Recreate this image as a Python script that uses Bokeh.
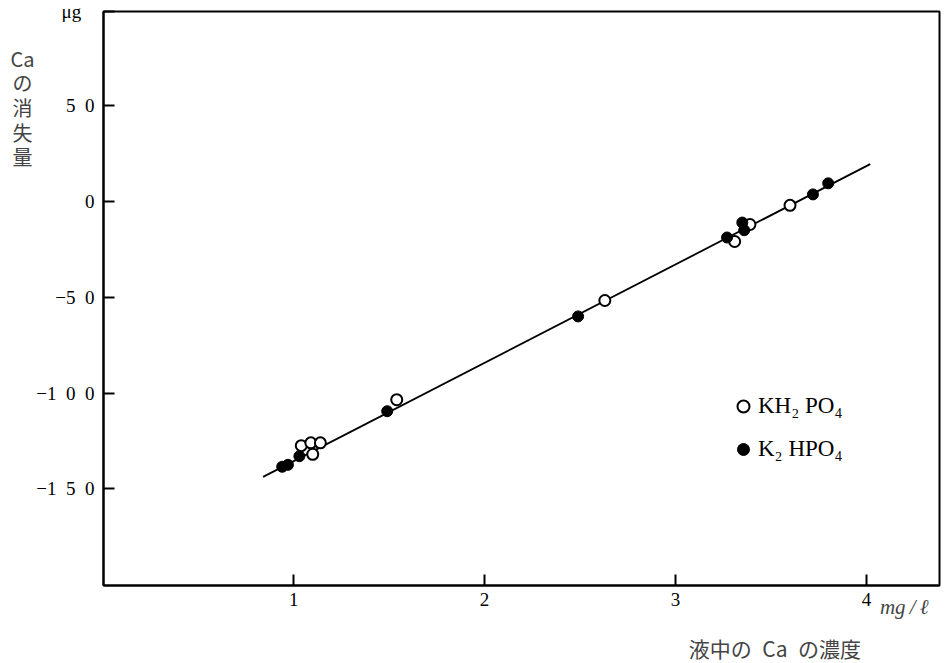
from bokeh.plotting import figure
from bokeh.models import Label, Legend, LegendItem, FixedTicker, Range1d
from bokeh.embed import file_html
from bokeh.resources import INLINE

# Ca concentration in solution (mg/l) and Ca loss (ug)
kh2po4_x = [1.04, 1.09, 1.14, 1.10, 1.54, 2.63, 3.31, 3.39, 3.60]
kh2po4_y = [-127.5, -126.0, -126.0, -132.0, -103.5, -51.7, -20.9, -12.0, -2.0]

k2hpo4_x = [0.94, 0.97, 1.03, 1.49, 2.49, 3.27, 3.35, 3.36, 3.72, 3.80]
k2hpo4_y = [-138.5, -137.5, -133.0, -109.5, -60.0, -18.8, -11.0, -15.0, 3.7, 9.5]

# regression line end points
fit_x = [0.84, 4.02]
fit_y = [-143.8, 19.5]

x_ticks = [1, 2, 3, 4]
y_ticks = [50, 0, -50, -100, -150]
SP = "\u2002"
y_tick_labels = ["5" + SP + "0", "0", "\u22125" + SP + "0",
                 "\u22121" + SP + "0" + SP + "0", "\u22121" + SP + "5" + SP + "0"]
# the unit of the y axis sits on the top corner of the axis
y_unit_pos = 99.1
y_unit_text = "\u03bcg" + SP + "\u2009"

SERIF = "Liberation Serif"
CJK = "Noto Sans CJK JP"

p = figure(width=951, height=663, output_backend="svg", toolbar_location=None,
           x_range=Range1d(0.004, 4.383), y_range=Range1d(-200.5, 99.2),
           min_border_left=103, min_border_right=12, min_border_top=11,
           min_border_bottom=78)

p.background_fill_color = "white"
p.border_fill_color = "white"
p.outline_line_color = "black"
p.outline_line_width = 2
p.xgrid.visible = False
p.ygrid.visible = False

for ax in (p.xaxis[0], p.yaxis[0]):
    ax.axis_line_color = "black"
    ax.axis_line_width = 2
    ax.major_tick_in = 11
    ax.major_tick_out = 0
    ax.major_tick_line_width = 2
    ax.minor_tick_line_color = None
    ax.major_label_text_font = SERIF
    ax.major_label_text_font_size = "19px"
    ax.major_label_text_color = "black"

p.xaxis.ticker = FixedTicker(ticks=x_ticks)
p.xaxis.major_label_standoff = 7
p.yaxis.ticker = FixedTicker(ticks=y_ticks + [y_unit_pos])
overrides = {t: s for t, s in zip(y_ticks, y_tick_labels)}
overrides[y_unit_pos] = y_unit_text
p.yaxis.major_label_overrides = overrides
p.yaxis.major_label_standoff = 9

# fitted line
p.line(fit_x, fit_y, line_color="black", line_width=1.8)

r_open = p.scatter(kh2po4_x, kh2po4_y, marker="circle", size=11,
                   fill_color="white", line_color="black", line_width=2)
r_fill = p.scatter(k2hpo4_x, k2hpo4_y, marker="circle", size=11,
                   fill_color="black", line_color="black", line_width=1)

legend = Legend(items=[LegendItem(label="KH\u2082 PO\u2084", renderers=[r_open]),
                       LegendItem(label="K\u2082 HPO\u2084", renderers=[r_fill])],
                location=(625, 121), padding=0, margin=0, spacing=13,
                glyph_width=30, glyph_height=30, label_standoff=0,
                border_line_color=None, background_fill_alpha=0,
                label_text_font=SERIF, label_text_font_size="23px",
                label_text_color="black")
p.add_layout(legend)

# y axis title, stacked vertically
p.add_layout(Label(x=-0.4205, y=49.1, text="Ca\nの\n消\n失\n量", text_font=CJK,
                   text_font_size="20px", text_align="center",
                   text_baseline="middle", text_line_height=0.85), "left")

# x axis title and its unit
p.add_layout(Label(x=3.070, y=-233.0, text="液中の" + SP + "Ca" + SP + "の濃度",
                   text_font=CJK, text_font_size="21px", text_align="left",
                   text_baseline="middle"), "below")
p.add_layout(Label(x=4.071, y=-211.5, text="mg\u2009/\u2009\u2113", text_font=SERIF,
                   text_font_style="italic", text_font_size="21px",
                   text_align="left", text_baseline="middle"), "below")

open("out.html", "w").write(file_html(p, INLINE))
